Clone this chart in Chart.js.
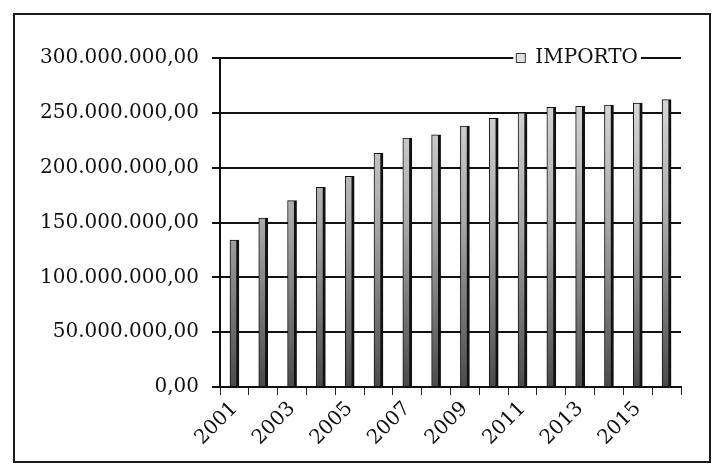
<!DOCTYPE html>
<html>
<head>
<meta charset="utf-8">
<script src="https://cdn.jsdelivr.net/npm/chart.js"></script>
<style>
    html, body { margin: 0; padding: 0; background: #fff; }
    .box {
        position: absolute; left: 13px; top: 13px;
        width: 694px; height: 446px;
        border: 2px solid #1a1a1a;
    }
</style>
</head>
<body>
<div class="box"><canvas id="barChart" width="694" height="446"></canvas></div>
<script>
// anni e importi (in euro)
const anni = ['2001', '2002', '2003', '2004', '2005', '2006', '2007', '2008',
              '2009', '2010', '2011', '2012', '2013', '2014', '2015', '2016'];
const importi = [134000000, 154000000, 170000000, 182000000, 192000000, 213000000,
                 227000000, 230000000, 238000000, 245000000, 250000000, 255000000,
                 256000000, 257000000, 259000000, 262000000];
const tickY = [0, 50000000, 100000000, 150000000, 200000000, 250000000, 300000000];

const FONT = "'DejaVu Serif', serif";

// 300000000 -> "300.000.000,00"
function formatta(v) {
    let s = Math.round(v).toString().replace(/\B(?=(\d{3})+(?!\d))/g, '.');
    return s + ',00';
}

// gradiente delle colonne: chiaro in alto, scuro alla base
function riempimento(context) {
    let chart = context.chart;
    let area = chart.chartArea;
    if (!area) return '#999';
    let g = chart.ctx.createLinearGradient(0, area.top, 0, area.bottom);
    g.addColorStop(0, '#e6e6e6');
    g.addColorStop(0.5, '#a8a8a8');
    g.addColorStop(1, '#4a4a4a');
    return g;
}

// legenda sopra la prima linea della griglia, con fondo bianco
const legendaSullaGriglia = {
    id: 'legendaSullaGriglia',
    afterLayout(chart) {
        let l = chart.legend;
        let dy = chart.chartArea.top - (l.top + l.bottom) / 2;
        l.top += dy; l.bottom += dy;
        let dx = (chart.chartArea.right - 33) - l.right;
        l.left += dx; l.right += dx;
    },
    afterDatasetsDraw(chart) {
        let l = chart.legend;
        if (!l.legendHitBoxes.length) return;
        let hb = l.legendHitBoxes[0];
        let ctx = chart.ctx;
        ctx.save();
        ctx.fillStyle = '#fff';
        ctx.fillRect(hb.left - 3, hb.top - 1, hb.width + 6, hb.height + 2);
        ctx.restore();
        l.draw();
    }
};

let ctx = document.getElementById('barChart').getContext('2d');
let barChart = new Chart(ctx, {
    type: 'bar',
    data: {
        labels: anni,
        datasets: [{
            label: 'IMPORTO',
            data: importi,
            backgroundColor: riempimento,
            borderColor: '#111',
            borderWidth: { top: 1, left: 1, right: 3, bottom: 0 },
            borderSkipped: false,
            barThickness: 9
        }]
    },
    options: {
        responsive: false,
        animation: false,
        layout: { padding: { top: 3, left: 12, right: 28, bottom: 9 } },
        plugins: {
            legend: {
                position: 'top',
                align: 'end',
                labels: {
                    boxWidth: 9,
                    boxHeight: 9,
                    padding: 10,
                    color: '#111',
                    font: { family: FONT, size: 20 },
                    generateLabels(chart) {
                        return [{
                            text: chart.data.datasets[0].label,
                            fillStyle: '#e0e0e0',
                            strokeStyle: '#333',
                            lineWidth: 1,
                            fontColor: '#111',
                            datasetIndex: 0
                        }];
                    }
                }
            },
            tooltip: { enabled: false }
        },
        scales: {
            x: {
                offset: true,
                afterFit: function(scale) {
                    scale.paddingLeft = 0;
                    scale.paddingRight = 0;
                },
                grid: {
                    display: true,
                    drawOnChartArea: false,
                    offset: true,
                    tickLength: 8,
                    color: '#222',
                    lineWidth: 1
                },
                border: { display: true, color: '#111', width: 2 },
                ticks: {
                    autoSkip: false,
                    minRotation: 45,
                    maxRotation: 45,
                    padding: 2,
                    color: '#111',
                    font: { family: FONT, size: 20 },
                    callback: function(value, index) {
                        return index % 2 === 0 ? anni[index] : '';
                    }
                }
            },
            y: {
                min: 0,
                max: 300000000,
                afterBuildTicks: function(scale) {
                    scale.ticks = tickY.map(v => ({ value: v }));
                },
                grid: {
                    color: '#111',
                    lineWidth: 2,
                    tickLength: 8
                },
                border: { display: true, color: '#111', width: 2 },
                ticks: {
                    padding: 13,
                    color: '#111',
                    font: { family: FONT, size: 20 },
                    callback: function(value) { return formatta(value); }
                }
            }
        }
    },
    plugins: [legendaSullaGriglia]
});
</script>
</body>
</html>
